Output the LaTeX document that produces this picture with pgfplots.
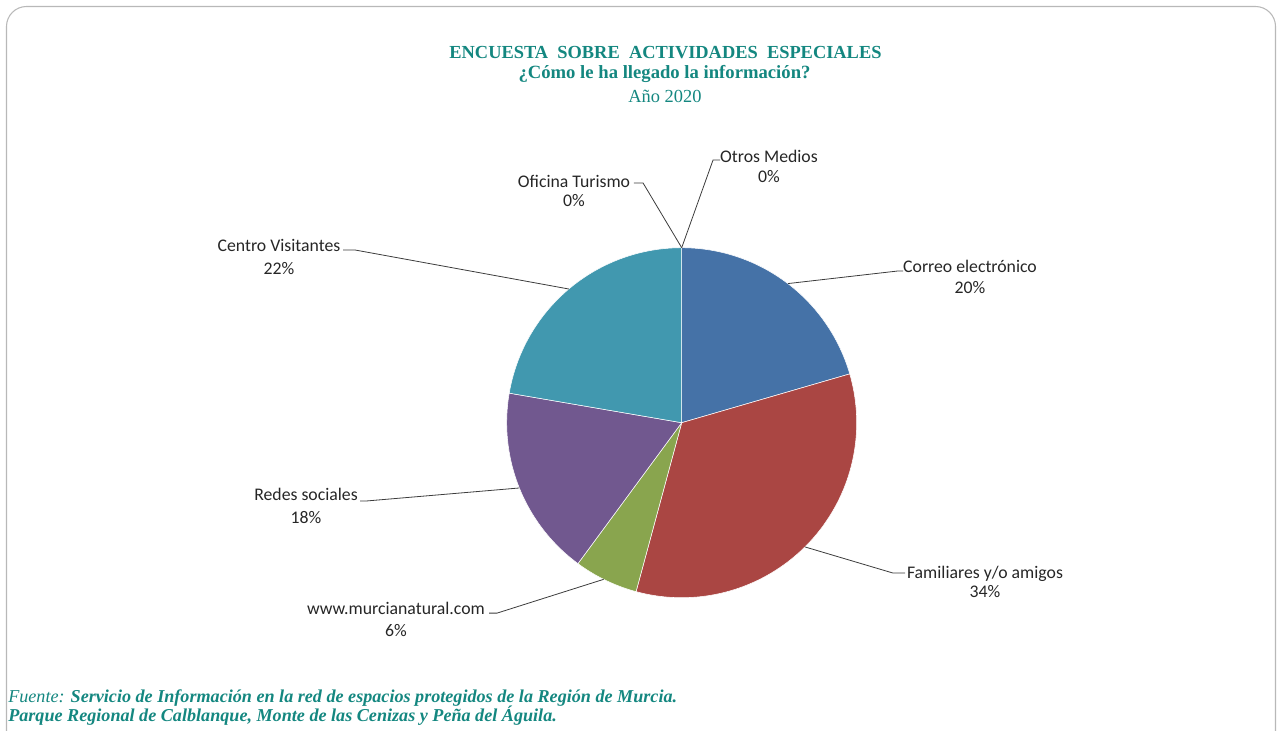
\documentclass[border=0pt]{standalone}
\usepackage{pgfplots}
\pgfplotsset{compat=1.18}
\usepackage{fontspec}
\setmainfont{Liberation Serif}
\newfontfamily\lblfont{Carlito}
\definecolor{cA}{HTML}{4572A7}
\definecolor{cB}{HTML}{AA4643}
\definecolor{cC}{HTML}{89A54E}
\definecolor{cD}{HTML}{71588F}
\definecolor{cE}{HTML}{4198AF}
\definecolor{ttl}{RGB}{20,135,128}
\definecolor{lead}{RGB}{60,60,60}
% values (%)
\def\vA{20.5}  % Correo electronico
\def\vB{33.7}  % Familiares y/o amigos
\def\vC{5.9}   % www.murcianatural.com
\def\vD{17.6}  % Redes sociales
\def\vE{22.3}  % Centro Visitantes
\def\vF{0}     % Oficina Turismo
\def\vG{0}     % Otros Medios
\pgfmathsetmacro{\aA}{90}
\pgfmathsetmacro{\aB}{\aA-3.6*\vA}
\pgfmathsetmacro{\aC}{\aB-3.6*\vB}
\pgfmathsetmacro{\aD}{\aC-3.6*\vC}
\pgfmathsetmacro{\aE}{\aD-3.6*\vD}
\pgfmathsetmacro{\aF}{\aE-3.6*\vE}
\begin{document}
\begin{tikzpicture}[x=0.75pt,y=-0.75pt]
\useasboundingbox (0,0) rectangle (1281,731);
\draw[black!28, line width=0.8pt, rounded corners=15] (6.5,800) -- (6.5,6.5) -- (1275.5,6.5) -- (1275.5,800);
\begin{axis}[at={(511.275pt,-317.025pt)}, anchor=center, scale only axis,
  width=262.5pt, height=262.5pt, xmin=-1, xmax=1, ymin=-1, ymax=1,
  hide axis, clip=false]
\addplot[fill=cA, draw=white, line width=0.4pt, domain=\aB:\aA, samples=80, variable=\t] ({cos(\t)},{sin(\t)}) -- (axis cs:0,0) -- cycle;
\addplot[fill=cB, draw=white, line width=0.4pt, domain=\aC:\aB, samples=80, variable=\t] ({cos(\t)},{sin(\t)}) -- (axis cs:0,0) -- cycle;
\addplot[fill=cC, draw=white, line width=0.4pt, domain=\aD:\aC, samples=40, variable=\t] ({cos(\t)},{sin(\t)}) -- (axis cs:0,0) -- cycle;
\addplot[fill=cD, draw=white, line width=0.4pt, domain=\aE:\aD, samples=60, variable=\t] ({cos(\t)},{sin(\t)}) -- (axis cs:0,0) -- cycle;
\addplot[fill=cE, draw=white, line width=0.4pt, domain=\aF:\aE, samples=60, variable=\t] ({cos(\t)},{sin(\t)}) -- (axis cs:0,0) -- cycle;
% leader lines
\addplot[lead, line width=0.6pt, no marks] coordinates {(0,1) (0.179,1.501) (0.219,1.501)};
\addplot[lead, line width=0.6pt, no marks] coordinates {(0,1) (-0.221,1.370) (-0.273,1.370)};
\addplot[lead, line width=0.6pt, no marks] coordinates {(-0.645,0.764) (-1.867,0.987) (-1.935,0.987)};
\addplot[lead, line width=0.6pt, no marks] coordinates {(0.607,0.795) (1.236,0.867) (1.265,0.867)};
\addplot[lead, line width=0.6pt, no marks] coordinates {(0.705,-0.710) (1.207,-0.859) (1.276,-0.859)};
\addplot[lead, line width=0.6pt, no marks] coordinates {(-0.446,-0.895) (-1.055,-1.088) (-1.101,-1.088)};
\addplot[lead, line width=0.6pt, no marks] coordinates {(-0.928,-0.373) (-1.798,-0.447) (-1.838,-0.447)};
\end{axis}
% titles
\node[anchor=base, text=ttl, font=\fontsize{13.8}{16}\selectfont\bfseries] at (665.5,58.5) {ENCUESTA\ \ SOBRE\ \ ACTIVIDADES\ \ ESPECIALES};
\node[anchor=base, text=ttl, font=\fontsize{14}{16}\selectfont\bfseries] at (664.5,78.5) {¿Cómo le ha llegado la información?};
\node[anchor=base, text=ttl, font=\fontsize{13.8}{16}\selectfont] at (665,102.5) {Año 2020};
% labels
\begin{scope}[every node/.style={anchor=base, font=\lblfont\fontsize{13.3}{15}\selectfont, text=black!85, inner sep=0pt}]
\node at (769,163) {Otros Medios};
\node at (769,183) {0\%};
\node at (574,187) {Oficina Turismo};
\node at (574,206) {0\%};
\node at (279,251) {Centro Visitantes};
\node at (279,274) {22\%};
\node at (970,272) {Correo electrónico};
\node at (970,293) {20\%};
\node at (306,500) {Redes sociales};
\node at (306,523) {18\%};
\node at (985,578) {Familiares y/o amigos};
\node at (985,597) {34\%};
\node at (396,614) {www.murcianatural.com};
\node at (396,636) {6\%};
\end{scope}
% footer
\node[anchor=base west, inner sep=0pt, text=ttl, font=\fontsize{13.6}{15}\selectfont\itshape] at (8,702) {Fuente: \textbf{Servicio de Información en la red de espacios protegidos de la Región de Murcia.}};
\node[anchor=base west, inner sep=0pt, text=ttl, font=\fontsize{13.6}{15}\selectfont\itshape\bfseries] at (8,721) {Parque Regional de Calblanque, Monte de las Cenizas y Peña del Águila.};
\end{tikzpicture}
\end{document}
